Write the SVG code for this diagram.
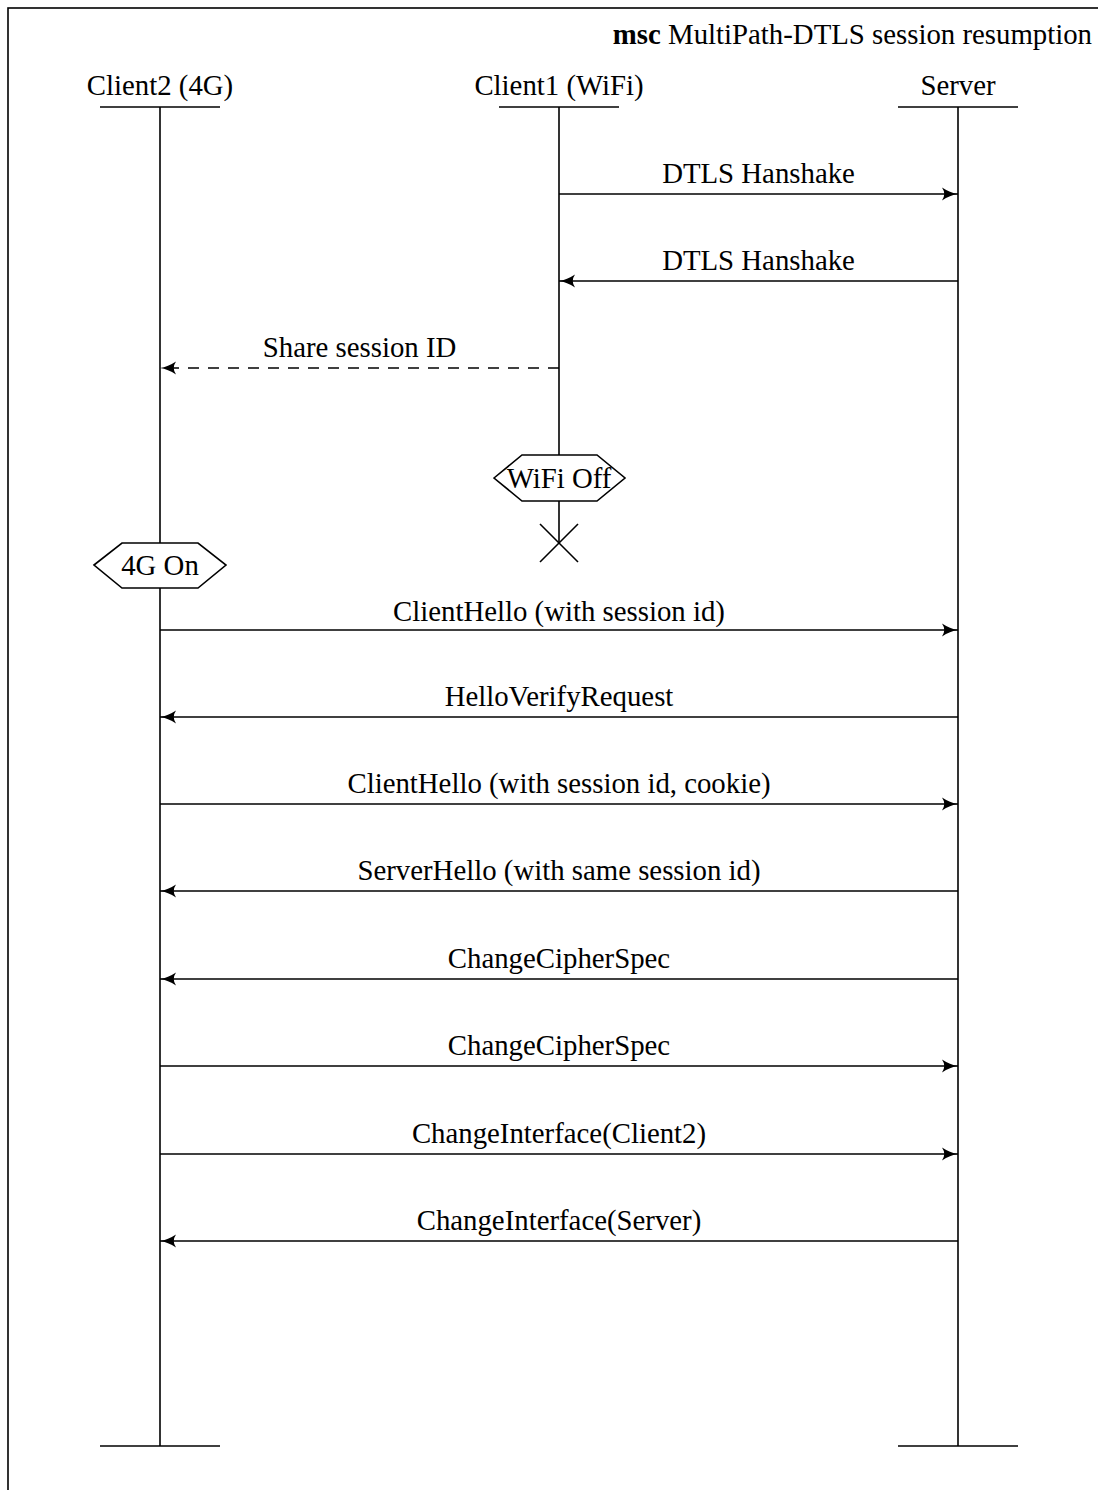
<svg xmlns="http://www.w3.org/2000/svg" width="1098" height="1490" viewBox="0 0 1098 1490">
<style>
text{font-family:"Liberation Serif","Times New Roman",serif;font-size:28.8px;fill:#000}
.c{text-anchor:middle}
.ln{stroke:#000;stroke-width:1.6;fill:none}
.msg{stroke:#000;stroke-width:1.6;fill:none;marker-end:url(#ah)}
.dash{stroke-dasharray:11 9}
.hex{stroke:#000;stroke-width:1.6;fill:#fff}
</style>
<defs>
<marker id="ah" viewBox="-18 -8 19 16" markerWidth="19" markerHeight="16" refX="0" refY="0" orient="auto" markerUnits="userSpaceOnUse">
<path d="M-16,-6.5 Q-8,-1.2 0,0 Q-8,1.2 -16,6.5 Q-11.5,0 -16,-6.5 Z" fill="#000"/>
</marker>
</defs>
<rect width="1098" height="1490" fill="#fff"/>
<rect id="frame" x="8" y="8" width="1300" height="1700" fill="none" stroke="#000" stroke-width="1.6"/>
<text x="1092" y="44" text-anchor="end"><tspan font-weight="bold">msc</tspan> MultiPath-DTLS session resumption</text>

<g id="client2">
<text class="c" x="160" y="95">Client2 (4G)</text>
<line class="ln" x1="100" y1="107" x2="220" y2="107"/>
<line class="ln" x1="160" y1="107" x2="160" y2="1446"/>
<line class="ln" x1="100" y1="1446" x2="220" y2="1446"/>
</g>
<g id="client1">
<text class="c" x="559" y="95">Client1 (WiFi)</text>
<line class="ln" x1="499" y1="107" x2="619" y2="107"/>
<line class="ln" x1="559" y1="107" x2="559" y2="543"/>
<line class="ln" x1="540" y1="524" x2="578" y2="562"/>
<line class="ln" x1="578" y1="524" x2="540" y2="562"/>
</g>
<g id="server">
<text class="c" x="958" y="95">Server</text>
<line class="ln" x1="898" y1="107" x2="1018" y2="107"/>
<line class="ln" x1="958" y1="107" x2="958" y2="1446"/>
<line class="ln" x1="898" y1="1446" x2="1018" y2="1446"/>
</g>

<g id="wifi-off">
<polygon class="hex" points="494,478 522,455 597,455 625,478 597,501 522,501"/>
<text class="c" x="559" y="488">WiFi Off</text>
</g>
<g id="4g-on">
<polygon class="hex" points="94,565 122,543 198,543 226,565 198,588 122,588"/>
<text class="c" x="160" y="575">4G On</text>
</g>

<g id="connectors">
<line class="msg" x1="559" y1="194" x2="958" y2="194"/>
<text class="c" x="758.5" y="183">DTLS Hanshake</text>
<line class="msg" x1="958" y1="281" x2="559" y2="281"/>
<text class="c" x="758.5" y="270">DTLS Hanshake</text>
<line class="msg dash" x1="559" y1="368" x2="160" y2="368"/>
<text class="c" x="359.5" y="357">Share session ID</text>
<line class="msg" x1="160" y1="630" x2="958" y2="630"/>
<text class="c" x="559" y="621">ClientHello (with session id)</text>
<line class="msg" x1="958" y1="717" x2="160" y2="717"/>
<text class="c" x="559" y="706">HelloVerifyRequest</text>
<line class="msg" x1="160" y1="804" x2="958" y2="804"/>
<text class="c" x="559" y="793">ClientHello (with session id, cookie)</text>
<line class="msg" x1="958" y1="891" x2="160" y2="891"/>
<text class="c" x="559" y="880">ServerHello (with same session id)</text>
<line class="msg" x1="958" y1="979" x2="160" y2="979"/>
<text class="c" x="559" y="968">ChangeCipherSpec</text>
<line class="msg" x1="160" y1="1066" x2="958" y2="1066"/>
<text class="c" x="559" y="1055">ChangeCipherSpec</text>
<line class="msg" x1="160" y1="1154" x2="958" y2="1154"/>
<text class="c" x="559" y="1143">ChangeInterface(Client2)</text>
<line class="msg" x1="958" y1="1241" x2="160" y2="1241"/>
<text class="c" x="559" y="1230">ChangeInterface(Server)</text>
</g>
</svg>
